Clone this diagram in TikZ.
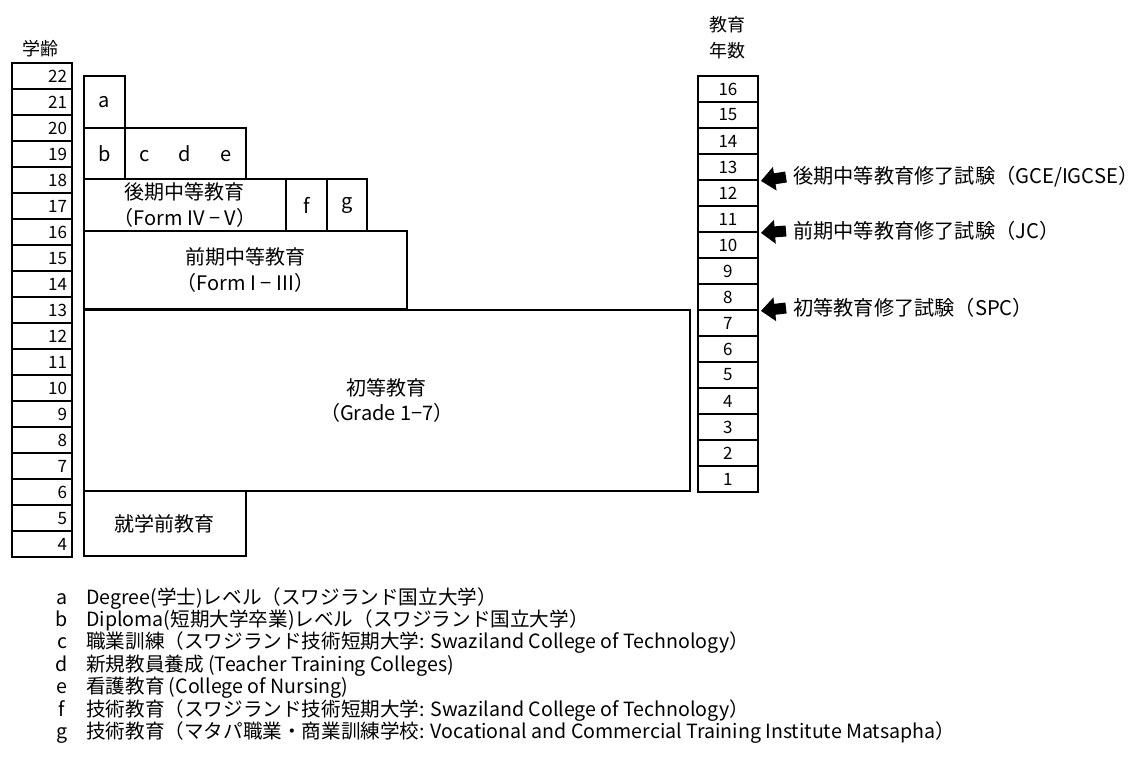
\documentclass[tikz,border=0pt]{standalone}
\usepackage{fontspec}
\setmainfont{Noto Sans CJK JP}
\usetikzlibrary{arrows.meta}
\begin{document}
\begin{tikzpicture}[x=1pt,y=-1pt,
  bx/.style={draw, line width=1.9pt, inner sep=0pt, anchor=north west, align=center, font=\fontsize{20}{25.5}\selectfont},
  cell/.style={draw, line width=1.9pt, anchor=north west, minimum width=60pt, minimum height=26pt, inner xsep=5pt, inner ysep=0pt, text width=50pt, font=\fontsize{17}{17}\selectfont},
  hdr/.style={inner sep=0pt, align=center, font=\fontsize{18}{26}\selectfont},
  exam/.style={inner sep=0pt, anchor=west, font=\fontsize{20.2}{20.2}\selectfont},
  blockarrow/.style={line width=11pt, -{Triangle[length=14pt,width=23pt]}},
  leg/.style={inner sep=0pt, anchor=base west, font=\fontsize{19.6}{19.6}\selectfont},
  legl/.style={inner sep=0pt, anchor=base, font=\fontsize{19.6}{19.6}\selectfont}]
\useasboundingbox (0,0) rectangle (1138,760);
% headers
\node[hdr] (hage) at (41,49) {学齢};
\node[hdr] (hyear) at (727,38) {教育\\年数};
% age column
\foreach \a [count=\i from 0] in {22,21,20,19,18,17,16,15,14,13,12,11,10,9,8,7,6,5,4}
  \node[cell, align=right, text depth=-1.5pt] (age\a) at (11,62+26*\i) {\a};
% year column
\foreach \n [count=\i from 0] in {16,15,14,13,12,11,10,9,8,7,6,5,4,3,2,1}
  \node[cell, align=center] (yr\n) at (697,75+26*\i) {\n};
% school boxes
\node[bx, minimum width=41pt, minimum height=52pt] (a) at (83,75) {a};
\node[bx, minimum width=41pt, minimum height=51pt] (b) at (83,127) {b};
\node[bx, minimum width=121pt, minimum height=51pt] (cde) at (124,127) {c\hspace{29pt}d\hspace{29pt}e};
\node[bx, minimum width=202pt, minimum height=52pt] (usec) at (83,178) {後期中等教育\\（Form IV − V）};
\node[bx, minimum width=41pt, minimum height=52pt] (f) at (285,178) {f};
\node[bx, minimum width=40pt, minimum height=52pt] (g) at (326,178) {g};
\node[bx, minimum width=323pt, minimum height=78pt] (lsec) at (83,230) {前期中等教育\\（Form I − III）};
\node[bx, minimum width=606pt, minimum height=181pt] (prim) at (83,309) {初等教育\\（Grade 1−7）};
\node[bx, minimum width=162pt, minimum height=65pt] (pre) at (83,490) {就学前教育};
% exams
\node[exam] (e1) at (793,177) {後期中等教育修了試験（GCE/IGCSE）};
\node[exam] (e2) at (793,231) {前期中等教育修了試験（JC）};
\node[exam] (e3) at (793,308) {初等教育修了試験（SPC）};
\draw[blockarrow] ([xshift=-7pt]e1.west) -- ([xshift=2pt]yr13.south east);
\draw[blockarrow] ([xshift=-7pt]e2.west) -- ([xshift=2pt]yr11.south east);
\draw[blockarrow] ([xshift=-7pt]e3.west) -- ([xshift=2pt]yr8.south east);
% legend
\foreach \l/\t [count=\i from 0] in {
  a/{Degree(学士)レベル（スワジランド国立大学）},
  b/{Diploma(短期大学卒業)レベル（スワジランド国立大学）},
  c/{職業訓練（スワジランド技術短期大学: Swaziland College of Technology）},
  d/{新規教員養成 (Teacher Training Colleges)},
  e/{看護教育 (College of Nursing)},
  f/{技術教育（スワジランド技術短期大学: Swaziland College of Technology）},
  g/{技術教育（マタパ職業・商業訓練学校: Vocational and Commercial Training Institute Matsapha）}}
{
  \node[legl] (ll\l) at (62,604+22.4*\i) {\l};
  \node[leg] (lt\l) at (86,604+22.4*\i) {\t};
}
\end{tikzpicture}
\end{document}
